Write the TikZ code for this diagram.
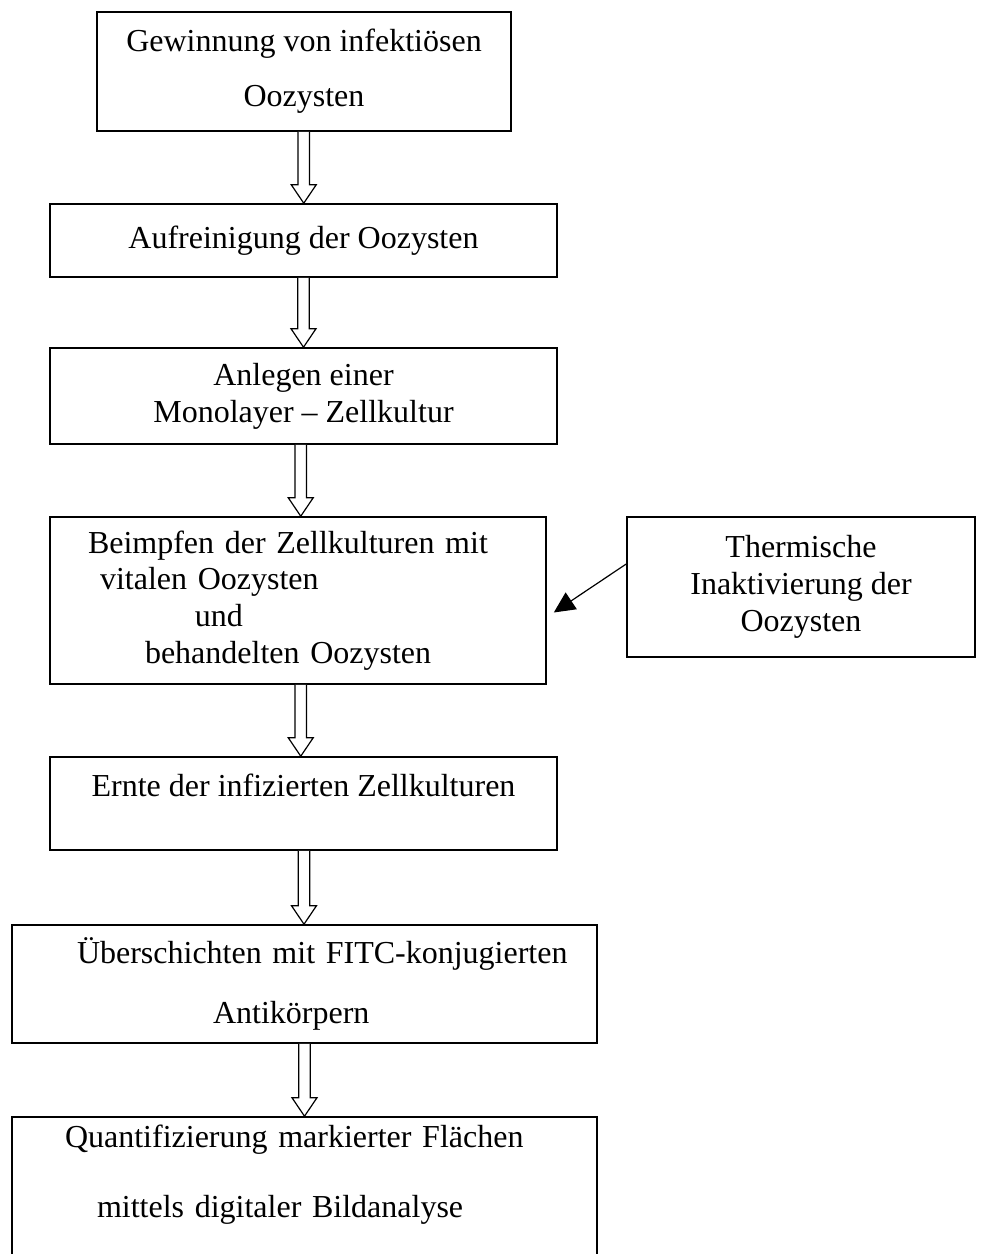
\documentclass[tikz,border=0pt]{standalone}
\usepackage{fontspec}
\setmainfont{Liberation Serif}
\usepackage{tikz}
\usetikzlibrary{positioning, arrows.meta, calc}
\tikzset{
  stepbox/.style={
    draw=black, line width=0.8pt, inner sep=0pt,
    align=center, font=\fontsize{16}{18.4}\selectfont,
  },
  leftbox/.style={stepbox, align=left},
  hollow/.style={draw=black, line width=0.6pt, fill=white},
  feed/.style={draw=black, line width=0.6pt, -{Triangle[length=10.5pt, width=10pt]}},
}
% hollow block arrow from the lower edge of #1 to the upper edge of #2
\newcommand{\blockarrow}[2]{%
  \path[hollow] let \p1=($(#1.south)!0.5!(#2.north)$), \p2=(#1.south), \p3=(#2.north) in
    (\x1-2.9pt,\y2) -- (\x1-2.9pt,\y3+9.25pt) -- (\x1-6.25pt,\y3+9.25pt) -- (\x1,\y3)
    -- (\x1+6.25pt,\y3+9.25pt) -- (\x1+2.9pt,\y3+9.25pt) -- (\x1+2.9pt,\y2);}

\begin{document}
\begin{tikzpicture}[x=0.5pt, y=-0.5pt, >=Stealth]

\useasboundingbox (0,0) rectangle (989,1254);

\node[stepbox, minimum width=207pt, minimum height=59.5pt] (gewinnung) at (304,71.5)
  {Gewinnung von infektiösen\\[9.1pt]Oozysten};
\node[stepbox, minimum width=253.5pt, minimum height=36.5pt] (aufreinigung) at (303.5,240.5)
  {Aufreinigung der Oozysten};
\node[stepbox, minimum width=253.5pt, minimum height=48pt] (anlegen) at (303.5,396)
  {Anlegen einer\\Monolayer -- Zellkultur};
\node[leftbox, text width=248pt, minimum height=83.5pt] (beimpfen) at (298,600.5)
  {\hspace*{19pt}\makebox[210pt][s]{Beimpfen der Zellkulturen mit}\\
   \hspace*{25pt}vitalen Oozysten\\
   \hspace*{72.5pt}und\\
   \hspace*{47.5pt}behandelten Oozysten};
\node[stepbox, minimum width=174pt, minimum height=70pt] (thermisch) at (801,587)
  {Thermische\\Inaktivierung der\\Oozysten};
\node[stepbox, minimum width=253.5pt, minimum height=46.5pt] (ernte) at (303.5,803.5)
  {Ernte der infizierten Zellkulturen\\\mbox{}};
\node[leftbox, text width=292.5pt, minimum height=59pt] (ueberschichten) at (304.5,984)
  {\hspace*{32.5pt}\makebox[251.5pt][s]{Überschichten mit FITC-konjugierten}\\[11.6pt]
   \hspace*{100.5pt}Antikörpern};
\node[leftbox, text width=292.5pt, minimum height=72.5pt] (quant) at (304.5,1189.5)
  {\hspace*{26.5pt}Quantifizierung markierter Flächen\\[16.6pt]
   \hspace*{42.5pt}mittels digitaler Bildanalyse\\\mbox{}};

\blockarrow{gewinnung}{aufreinigung}
\blockarrow{aufreinigung}{anlegen}
\blockarrow{anlegen}{beimpfen}
\blockarrow{beimpfen}{ernte}
\blockarrow{ernte}{ueberschichten}
\blockarrow{ueberschichten}{quant}

\coordinate (hit) at ($(beimpfen.east)+(7,12)$);
\draw[feed] ($(thermisch.west)+(0,-23)$) -- (hit);

\end{tikzpicture}
\end{document}
